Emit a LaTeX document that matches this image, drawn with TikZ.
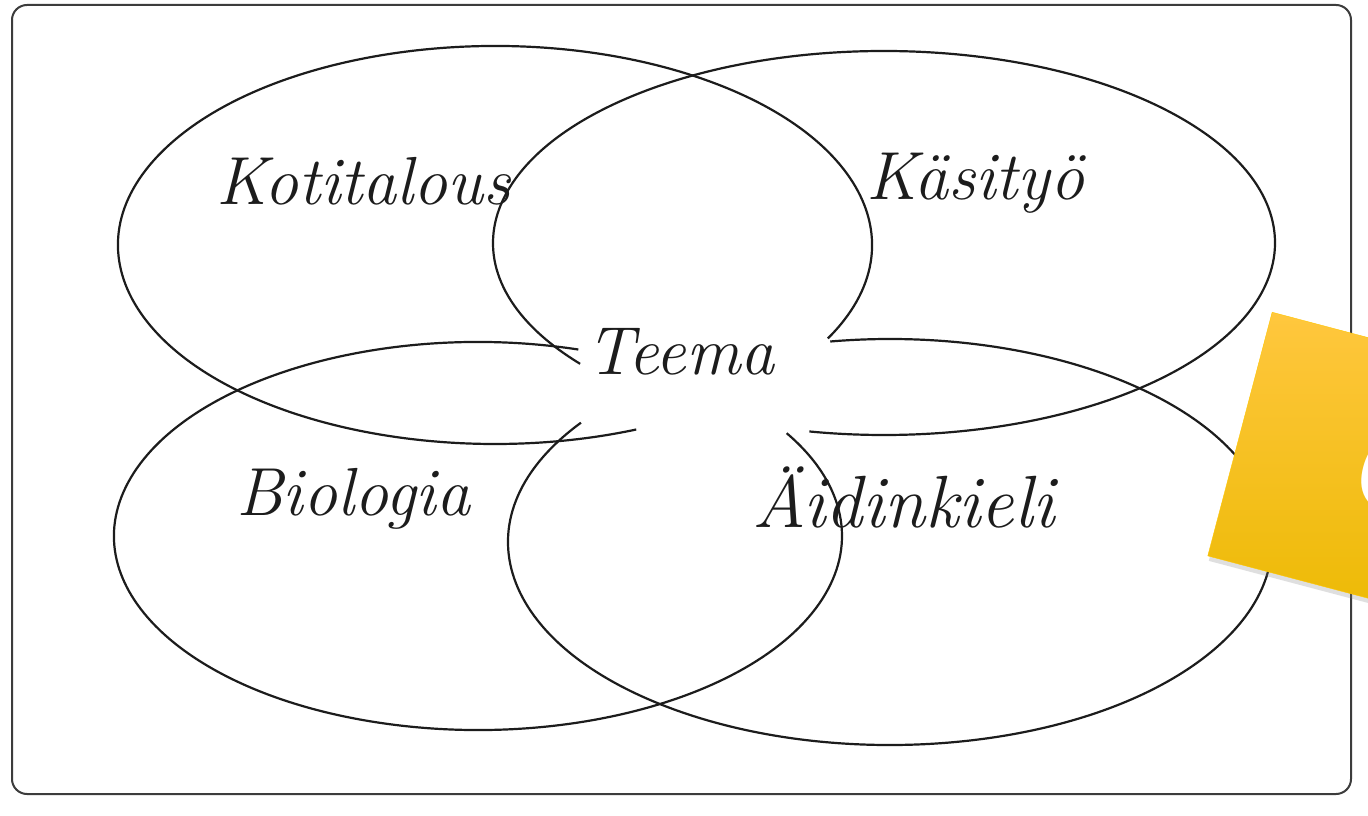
\documentclass[tikz,border=0pt]{standalone}
\usepackage{tikz}
\usetikzlibrary{shadows}
\definecolor{Ink}{HTML}{1C1C1C}
\definecolor{Frame}{HTML}{3C3C3C}
\definecolor{NoteTop}{HTML}{FFC73E}
\definecolor{NoteMid}{HTML}{FFC600}
\definecolor{NoteBot}{HTML}{EBB900}

\begin{document}
\begin{tikzpicture}[x=1pt,y=1pt,
  loop/.style={draw=Ink,line width=2.2pt},
  word/.style={anchor=base west,inner sep=0pt,text=Ink,font=\fontsize{68}{80}\selectfont\itshape},
  note/.style={anchor=north west,rotate=-14.8,minimum width=320,minimum height=252,inner sep=0pt,
    top color=NoteTop,middle color=NoteMid,bottom color=NoteBot,draw=NoteMid,
    drop shadow={shadow xshift=1pt,shadow yshift=-5pt,opacity=.25},
    text=white,font=\fontsize{110}{120}\selectfont\sffamily\bfseries}
]
\useasboundingbox (0,0) rectangle (1368,815);
\clip (0,0) rectangle (1368,815);
\fill[white] (0,0) rectangle (1368,815);
\draw[Frame,line width=2pt,rounded corners=15pt] (12,810) rectangle (1351,21);

\coordinate (koticen) at (495,570);
\coordinate (kasicen) at (884,572);
\coordinate (biocen) at (478,279);
\coordinate (aidincen) at (890,273);

\draw[loop] ([shift={(-28:377 and 199)}]koticen) arc[start angle=-28,end angle=292,x radius=377,y radius=199];
\draw[loop] ([shift={(219:391 and 192)}]kasicen) arc[start angle=219,end angle=-101,x radius=391,y radius=192];
\draw[loop] ([shift={(74:364 and 194)}]biocen) arc[start angle=74,end angle=392,x radius=364,y radius=194];
\draw[loop] ([shift={(144:382 and 203)}]aidincen) arc[start angle=144,end angle=459,x radius=382,y radius=203];

\node[word] (koti) at (216,610) {Kotitalous};
\node[word] (kasi) at (866,615) {Käsityö};
\node[word] (teema) at (586,440) {Teema};
\node[word] (bio) at (236,300) {Biologia};
\node[word,font=\fontsize{74}{80}\selectfont\itshape] (aidin) at (752,288) {Äidinkieli};

\node[note] (postit) at (1272,503) {C};
\end{tikzpicture}
\end{document}
